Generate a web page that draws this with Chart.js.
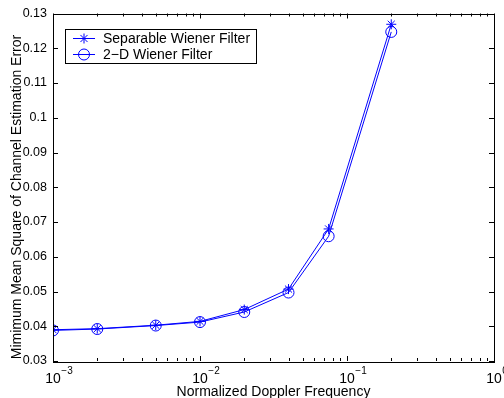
<!DOCTYPE html>
<html>
<head>
<meta charset="utf-8">
<script src="https://cdn.jsdelivr.net/npm/chart.js@4.4.1/dist/chart.umd.min.js"></script>
<style>
  html, body { margin: 0; padding: 0; background: #fff; }
  #wrap { width: 504px; height: 398px; }
</style>
</head>
<body>
<div id="wrap"><canvas id="chart-area" width="504" height="398"></canvas></div>
<script>
  'use strict';

  // normalized doppler frequency (x, log scale)
  var dopplerFreq = [0.001, 0.002, 0.005, 0.01, 0.02, 0.04, 0.075, 0.2];
  var separableMmse = [0.0390, 0.0393, 0.0403, 0.0414, 0.0448, 0.0507, 0.0680, 0.1269];
  var wiener2dMmse = [0.0388, 0.0392, 0.0402, 0.0412, 0.0441, 0.0497, 0.0659, 0.1247];
  var seriesNames = ['Separable Wiener Filter', '2\u2212D Wiener Filter'];
  var xTickExps = [-3, -2, -1, 0];
  var yTicks = [0.03, 0.04, 0.05, 0.06, 0.07, 0.08, 0.09, 0.1, 0.11, 0.12, 0.13];
  var xTitle = 'Normalized Doppler Frequency';
  var yTitle = 'Mimimum Mean Square of Channel Estimation Error';

  var FONT = 'Liberation Sans, Arial, Helvetica, sans-serif';
  var blue = '#0000ff';

  function pts(ys) {
      return dopplerFreq.map(function (x, i) { return { x: x, y: ys[i] }; });
  }

  // matlab-ish frame: inward ticks on all four sides, box, labels, legend
  var matlabFrame = {
      id: 'matlabFrame',
      afterDraw: function (chart) {
          var ctx = chart.ctx, a = chart.chartArea;
          var xs = chart.scales.x, ys = chart.scales.y;
          ctx.save();
          ctx.strokeStyle = '#000';
          ctx.lineWidth = 1;
          ctx.strokeRect(Math.round(a.left) + 0.5, Math.round(a.top) + 0.5,
              Math.round(a.right - a.left), Math.round(a.bottom - a.top));

          ctx.beginPath();
          // x ticks, major + minor
          xTickExps.forEach(function (e, i) {
              var base = Math.pow(10, e);
              var px = Math.round(xs.getPixelForValue(base)) + 0.5;
              ctx.moveTo(px, a.bottom); ctx.lineTo(px, a.bottom - 5);
              ctx.moveTo(px, a.top); ctx.lineTo(px, a.top + 5);
              if (i < xTickExps.length - 1) {
                  for (var m = 2; m <= 9; m++) {
                      var mx = Math.round(xs.getPixelForValue(m * base)) + 0.5;
                      ctx.moveTo(mx, a.bottom); ctx.lineTo(mx, a.bottom - 3);
                      ctx.moveTo(mx, a.top); ctx.lineTo(mx, a.top + 3);
                  }
              }
          });
          // y ticks
          yTicks.forEach(function (v) {
              var py = Math.round(ys.getPixelForValue(v)) + 0.5;
              ctx.moveTo(a.left, py); ctx.lineTo(a.left + 5, py);
              ctx.moveTo(a.right, py); ctx.lineTo(a.right - 5, py);
          });
          ctx.stroke();

          // x tick labels 10^n
          ctx.fillStyle = '#000';
          ctx.textBaseline = 'alphabetic';
          xTickExps.forEach(function (e) {
              var px = xs.getPixelForValue(Math.pow(10, e));
              ctx.font = '14px ' + FONT;
              ctx.textAlign = 'center';
              ctx.fillText('10', px, a.bottom + 22);
              var w = ctx.measureText('10').width;
              ctx.font = '10px ' + FONT;
              ctx.textAlign = 'left';
              ctx.fillText(e === 0 ? '0' : '\u2212' + (-e), px + w / 2 + 0.5, a.bottom + 13);
          });

          // axis titles
          ctx.font = '14px ' + FONT;
          ctx.textAlign = 'center';
          ctx.fillText(xTitle, (a.left + a.right) / 2, 396);
          ctx.save();
          ctx.translate(21, 197);
          ctx.rotate(-Math.PI / 2);
          ctx.fillText(yTitle, 0, 0);
          ctx.restore();

          // legend box
          var lx = 65, ly = 29, lw = 191, lh = 34;
          ctx.fillStyle = '#fff';
          ctx.fillRect(lx, ly, lw, lh);
          ctx.strokeRect(lx + 0.5, ly + 0.5, lw, lh);
          var styles = ['star', 'circle'];
          seriesNames.forEach(function (name, i) {
              var cy = ly + 9 + i * 16 + 0.5;
              ctx.strokeStyle = blue;
              ctx.fillStyle = 'rgba(0,0,0,0)';
              ctx.beginPath();
              ctx.moveTo(lx + 8, cy); ctx.lineTo(lx + 30, cy);
              ctx.stroke();
              Chart.helpers.drawPoint(ctx, { pointStyle: styles[i], radius: styles[i] === 'star' ? 5 : 5.5, borderWidth: 1 }, lx + 19, cy);
              ctx.fillStyle = '#000';
              ctx.font = '14px ' + FONT;
              ctx.textAlign = 'left';
              ctx.textBaseline = 'middle';
              ctx.fillText(name, lx + 38, cy + 0.5);
          });
          ctx.restore();
      }
  };

  var ctx = document.getElementById('chart-area').getContext('2d');
  window.mmseChart = new Chart(ctx, {
      type: 'line',
      data: {
          datasets: [
              {
                  label: seriesNames[0],
                  data: pts(separableMmse),
                  borderColor: blue,
                  backgroundColor: 'rgba(0,0,0,0)',
                  borderWidth: 1,
                  pointStyle: 'star',
                  pointRadius: 5,
                  pointBorderColor: blue,
                  pointBorderWidth: 1,
                  tension: 0
              },
              {
                  label: seriesNames[1],
                  data: pts(wiener2dMmse),
                  borderColor: blue,
                  backgroundColor: 'rgba(0,0,0,0)',
                  borderWidth: 1,
                  pointStyle: 'circle',
                  pointRadius: 5.5,
                  pointBackgroundColor: 'rgba(0,0,0,0)',
                  pointBorderColor: blue,
                  pointBorderWidth: 1,
                  tension: 0
              }
          ]
      },
      options: {
          responsive: false,
          animation: false,
          events: [],
          layout: { padding: { top: 13, right: 10, left: 0, bottom: 0 } },
          plugins: {
              legend: { display: false },
              tooltip: { enabled: false }
          },
          scales: {
              x: {
                  type: 'logarithmic',
                  min: 0.001,
                  max: 1,
                  grid: { display: false, drawTicks: false },
                  border: { display: false },
                  ticks: { display: false },
                  afterFit: function (s) { s.height = 37; }
              },
              y: {
                  min: 0.03,
                  max: 0.13,
                  grid: { display: false, drawTicks: false },
                  border: { display: false },
                  afterBuildTicks: function (s) {
                      s.ticks = yTicks.map(function (v) { return { value: v }; });
                  },
                  ticks: {
                      color: '#000',
                      padding: 6,
                      font: { family: FONT, size: 12.5 },
                      callback: function (v) { return String(Number(v.toFixed(2))); }
                  },
                  afterFit: function (s) { s.width = 53; }
              }
          }
      },
      plugins: [matlabFrame]
  });
</script>
</body>
</html>
